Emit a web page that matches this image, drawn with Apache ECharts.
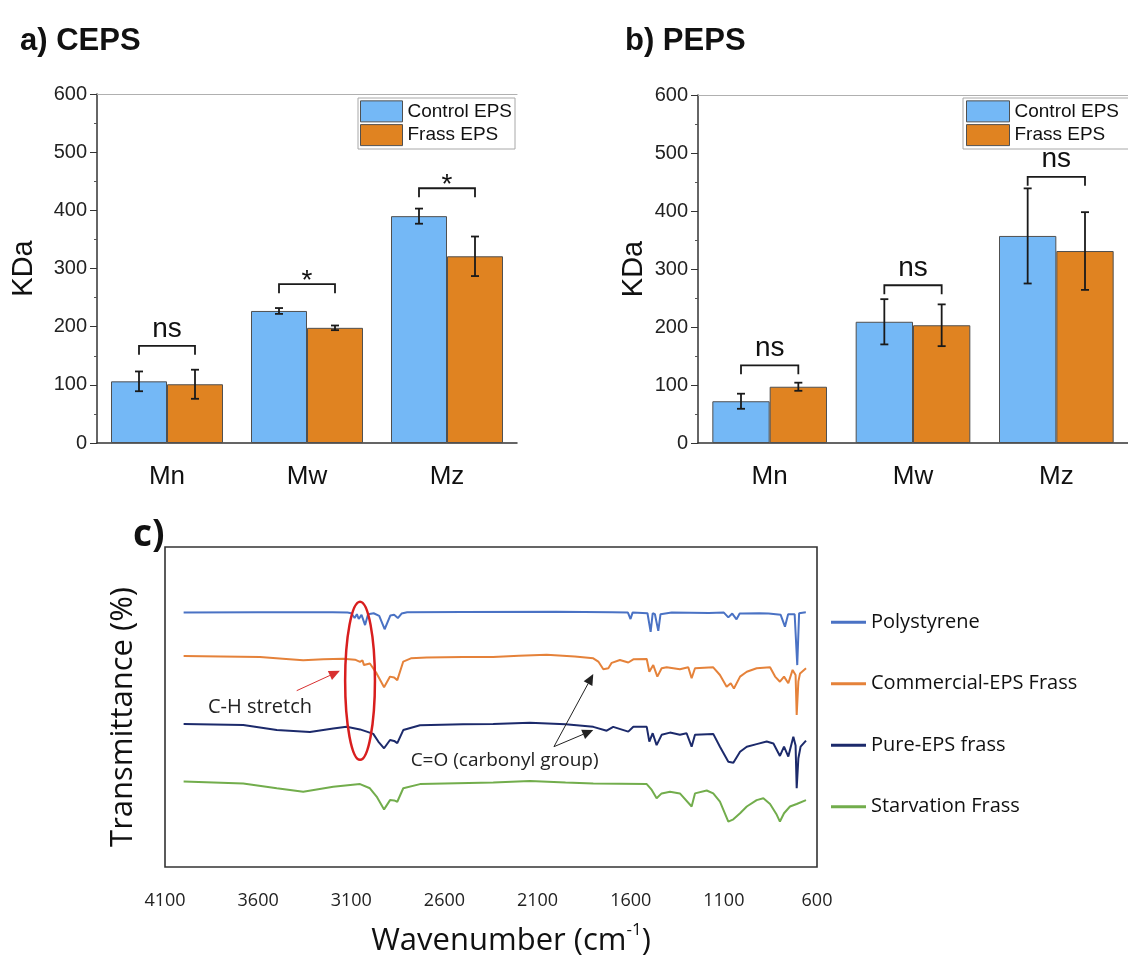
<!DOCTYPE html>
<html>
<head>
    <title>EPS molecular weight and FTIR</title>
    <script src="https://cdn.jsdelivr.net/npm/echarts@6/dist/echarts.min.js"></script>
    <style>
        html, body { margin: 0; padding: 0; background: #fff; }
        #chart { width: 1128px; height: 955px; }
    </style>
</head>
<body>
    <div id="chart"></div>

    <script>
    // ---- panel a / b data (KDa) ----
    const categories = ['Mn', 'Mw', 'Mz'];
    const cepsControl = [106, 227, 390];
    const cepsControlErr = [17, 5, 13];
    const cepsFrass = [101, 198, 321];
    const cepsFrassErr = [25, 4, 34];
    const cepsBracket = [167, 273, 438];
    const cepsSig = ['ns', '*', '*'];

    const pepsControl = [72, 209, 357];
    const pepsControlErr = [13, 39, 82];
    const pepsFrass = [97, 203, 331];
    const pepsFrassErr = [7, 36, 67];
    const pepsBracket = [134, 272, 459];
    const pepsSig = ['ns', 'ns', 'ns'];

    const kdaTicks = [0, 100, 200, 300, 400, 500, 600];

    // ---- panel c data: [wavenumber, offset transmittance] ----
    const wnTicks = [600, 1100, 1600, 2100, 2600, 3100, 3600, 4100];
    const polystyrene = [
        [4000, 79.5], [3600, 79.6], [3200, 79.6], [3120, 79.5], [3100, 79.3], [3082, 77.8], [3070, 79.0],
        [3060, 77.5], [3045, 78.8], [3026, 75.6], [3010, 79.0], [2980, 79.3], [2950, 78.5], [2921, 74.3],
        [2890, 78.6], [2870, 78.8], [2850, 77.8], [2830, 79.2], [2800, 79.6], [2500, 79.7], [2000, 79.8],
        [1700, 79.6], [1615, 79.5], [1601, 77.5], [1590, 79.5], [1510, 79.3], [1493, 73.5], [1482, 79.3],
        [1470, 79.0], [1452, 73.8], [1440, 79.0], [1380, 79.5], [1180, 79.4], [1100, 79.5], [1076, 78.0],
        [1055, 79.2], [1032, 77.4], [1015, 79.2], [1000, 79.2], [910, 79.3], [860, 79.2], [795, 78.8],
        [772, 75.1], [755, 79.0], [720, 79.0], [706, 63.1], [696, 79.3], [660, 79.6]
    ];
    const commercialFrass = [
        [4000, 65.9], [3800, 65.8], [3590, 65.6], [3450, 65.0], [3358, 64.6], [3250, 64.9], [3143, 65.1],
        [3080, 64.8], [3053, 64.1], [3040, 64.6], [3032, 63.1], [3000, 63.6], [2964, 60.5], [2924, 56.2],
        [2892, 59.5], [2870, 59.2], [2853, 58.4], [2821, 64.2], [2780, 65.2], [2695, 65.5], [2500, 65.6],
        [2339, 65.6], [2200, 66.0], [2051, 66.3], [1900, 65.8], [1801, 65.2], [1774, 64.2], [1747, 61.8],
        [1720, 62.1], [1702, 63.8], [1658, 64.7], [1613, 63.9], [1586, 64.9], [1514, 65.0], [1500, 61.0],
        [1479, 63.1], [1457, 59.5], [1434, 62.1], [1407, 62.4], [1336, 61.8], [1291, 62.4], [1273, 59.0],
        [1255, 62.1], [1157, 62.4], [1121, 60.0], [1085, 56.3], [1063, 57.4], [1046, 55.8], [1013, 59.5],
        [977, 61.0], [924, 62.1], [852, 62.4], [825, 59.5], [799, 57.9], [777, 59.5], [754, 57.4],
        [731, 61.6], [715, 60.0], [709, 47.5], [700, 58.0], [691, 60.5], [659, 62.1]
    ];
    const pureEpsFrass = [
        [4000, 44.7], [3680, 44.4], [3500, 42.8], [3322, 42.2], [3197, 43.3], [3125, 43.8], [3053, 43.0],
        [3017, 42.3], [2982, 41.6], [2955, 39.2], [2924, 37.1], [2892, 39.7], [2870, 39.4], [2853, 38.7],
        [2821, 42.8], [2731, 44.3], [2500, 44.6], [2338, 44.7], [2141, 45.1], [1950, 44.6], [1801, 43.8],
        [1729, 42.6], [1694, 43.8], [1613, 42.3], [1586, 43.8], [1514, 43.8], [1500, 39.2], [1482, 41.8],
        [1461, 38.1], [1434, 41.3], [1389, 42.0], [1336, 41.3], [1300, 41.8], [1273, 37.6], [1255, 41.3],
        [1157, 41.6], [1121, 37.6], [1076, 32.9], [1049, 32.6], [1013, 36.0], [977, 37.6], [924, 38.4],
        [870, 39.2], [834, 38.6], [799, 34.7], [777, 37.6], [754, 34.5], [727, 40.7], [715, 38.0],
        [709, 24.6], [700, 34.0], [688, 37.6], [659, 39.5]
    ];
    const starvationFrass = [
        [4000, 26.7], [3680, 26.1], [3500, 24.6], [3358, 23.5], [3197, 25.1], [3053, 25.9], [3000, 24.6],
        [2964, 22.0], [2924, 18.0], [2892, 20.9], [2870, 20.8], [2853, 20.4], [2821, 24.6], [2731, 25.9],
        [2338, 26.4], [2141, 26.9], [1950, 26.4], [1801, 26.1], [1514, 25.9], [1487, 24.1], [1461, 21.5],
        [1434, 23.0], [1389, 23.5], [1336, 23.0], [1273, 18.9], [1255, 23.0], [1192, 23.9], [1157, 23.0],
        [1121, 20.4], [1076, 14.2], [1049, 14.9], [1013, 16.8], [977, 18.9], [924, 20.9], [888, 21.5],
        [852, 19.7], [816, 16.3], [799, 14.2], [777, 16.8], [745, 18.9], [709, 19.7], [659, 20.9]
    ];

    // annotation anchors in data units (wavenumber, value)
    const annotations = {
        ellipse: { center: [3053, 58.2], rx: 80, ry: 24.7 },
        chText: { at: [3590, 50], text: 'C-H stretch' },
        chArrow: { from: [3393, 55.1], to: [3161, 61.3] },
        coText: { at: [2277, 33.4], text: 'C=O (carbonyl group)' },
        coArrows: { from: [2012, 37.6], to: [[1801, 60.3], [1801, 42.8]] }
    };

    const BLUE = '#74b8f6', ORANGE = '#e08321';
    const ARIAL = 'Liberation Sans';
    const CAL = 'Open Sans';

    const chart = echarts.init(document.getElementById('chart'));

    function errData(ctrl, ctrlErr, frass, frassErr) {
        const out = [];
        ctrl.forEach((v, i) => out.push([i, v, ctrlErr[i], -1]));
        frass.forEach((v, i) => out.push([i, v, frassErr[i], 1]));
        return out;
    }

    function renderErr(params, api) {
        const cat = api.value(0), mean = api.value(1), err = api.value(2), side = api.value(3);
        const band = api.size([1, 0])[0];
        const x = api.coord([cat, mean])[0] + side * band * 0.2;
        const yTop = api.coord([cat, mean + err])[1];
        const yBot = api.coord([cat, mean - err])[1];
        const st = { stroke: '#1a1a1a', lineWidth: 1.8 };
        return {
            type: 'group',
            children: [
                { type: 'line', shape: { x1: x, y1: yTop, x2: x, y2: yBot }, style: st },
                { type: 'line', shape: { x1: x - 4, y1: yTop, x2: x + 4, y2: yTop }, style: st },
                { type: 'line', shape: { x1: x - 4, y1: yBot, x2: x + 4, y2: yBot }, style: st }
            ]
        };
    }

    function makeBracket(labels) {
        return function (params, api) {
            const cat = api.value(0), yv = api.value(1);
            const band = api.size([1, 0])[0];
            const p = api.coord([cat, yv]);
            const x1 = p[0] - band * 0.2, x2 = p[0] + band * 0.2, y = p[1];
            const lab = labels[params.dataIndex];
            const ty = lab === '*' ? y - 3 : y - 17;
            return {
                type: 'group',
                children: [
                    { type: 'polyline', shape: { points: [[x1, y + 9], [x1, y], [x2, y], [x2, y + 9]] },
                      style: { stroke: '#1a1a1a', lineWidth: 1.8, fill: null } },
                    { type: 'text', x: p[0], y: ty,
                      style: { text: lab, fill: '#111', fontSize: 28, fontFamily: ARIAL,
                               align: 'center', verticalAlign: 'middle' } }
                ]
            };
        };
    }

    function arrow(p0, p1, color, width, head) {
        const dx = p1[0] - p0[0], dy = p1[1] - p0[1];
        const len = Math.sqrt(dx * dx + dy * dy);
        const ux = dx / len, uy = dy / len;
        const bx = p1[0] - ux * head, by = p1[1] - uy * head;
        const w = head * 0.45;
        return [
            { type: 'line', shape: { x1: p0[0], y1: p0[1], x2: bx, y2: by }, style: { stroke: color, lineWidth: width } },
            { type: 'polygon', shape: { points: [[p1[0], p1[1]], [bx - uy * w, by + ux * w], [bx + uy * w, by - ux * w]] },
              style: { fill: color } }
        ];
    }

    function renderAnnot(params, api) {
        const A = annotations;
        const c = api.coord(A.ellipse.center);
        const s = api.size([A.ellipse.rx, A.ellipse.ry]);
        let kids = [
            { type: 'ellipse', shape: { cx: c[0], cy: c[1], rx: s[0], ry: s[1] },
              style: { stroke: '#d81e1e', lineWidth: 2.5, fill: null } }
        ];
        kids = kids.concat(arrow(api.coord(A.chArrow.from), api.coord(A.chArrow.to), '#d83030', 1, 11));
        A.coArrows.to.forEach(t => {
            kids = kids.concat(arrow(api.coord(A.coArrows.from), api.coord(t), '#222', 1, 11));
        });
        const t1 = api.coord(A.chText.at), t2 = api.coord(A.coText.at);
        kids.push({ type: 'text', x: t1[0], y: t1[1],
            style: { text: A.chText.text, fill: '#222', fontSize: 20, fontFamily: CAL, align: 'center', verticalAlign: 'middle' } });
        kids.push({ type: 'text', x: t2[0], y: t2[1],
            style: { text: A.coText.text, fill: '#222', fontSize: 19, fontFamily: CAL, align: 'center', verticalAlign: 'middle' } });
        return { type: 'group', children: kids };
    }

    function barX(grid) {
        return [
            {
                gridIndex: grid, type: 'category', data: categories,
                axisLine: { lineStyle: { color: '#333', width: 1.5 } },
                axisTick: { alignWithLabel: true, length: 6, lineStyle: { color: '#333' } },
                axisLabel: { fontSize: 26, fontFamily: ARIAL, color: '#111', margin: 11 }
            },
            {
                gridIndex: grid, type: 'category', data: categories, position: 'bottom',
                axisLine: { show: false }, axisLabel: { show: false },
                axisTick: { length: 4, lineStyle: { color: '#555' } }
            },
            {
                gridIndex: grid, type: 'category', data: categories, position: 'top',
                axisLine: { lineStyle: { color: '#b0b0b0', width: 1.2 } },
                axisTick: { show: false }, axisLabel: { show: false }
            }
        ];
    }

    function barY(grid, gap) {
        return {
            gridIndex: grid, type: 'value', min: kdaTicks[0], max: kdaTicks[kdaTicks.length - 1], interval: 100,
            name: 'KDa', nameLocation: 'middle', nameGap: gap, nameMoveOverlap: false,
            nameTextStyle: { fontSize: 29, fontFamily: ARIAL, color: '#111' },
            axisLine: { show: true, lineStyle: { color: '#333', width: 1.5 } },
            axisTick: { show: true, length: 7, lineStyle: { color: '#333' } },
            minorTick: { show: true, splitNumber: 2, length: 3, lineStyle: { color: '#555' } },
            axisLabel: { fontSize: 20, fontFamily: ARIAL, color: '#222', margin: 10 },
            splitLine: { show: false }
        };
    }

    // legend items; the frame is drawn as a graphic rect behind them
    function barLegend(left, width) {
        return {
            data: ['Control EPS', 'Frass EPS'], orient: 'vertical', left: left, top: 95,
            icon: 'rect', itemWidth: width, itemHeight: 21, itemGap: -9, padding: 0,
            textStyle: { fontSize: 19, fontFamily: ARIAL, color: '#111' },
            itemStyle: { borderColor: '#505050', borderWidth: 1 }
        };
    }

    function legendFrame(x, w) {
        return {
            type: 'rect', z: 3, shape: { x: x, y: 98, width: w, height: 51 },
            style: { fill: '#fff', stroke: '#a8a8a8', lineWidth: 1 }
        };
    }

    function barSeries(name, data, color, xi, yi) {
        return {
            name: name, type: 'bar', data: data, xAxisIndex: xi, yAxisIndex: yi,
            barGap: 0, barCategoryGap: '20%',
            itemStyle: { color: color, borderColor: '#505050', borderWidth: 1 }
        };
    }

    const option = {
        animation: false,
        backgroundColor: '#fff',
        title: [
            { text: 'a) CEPS', left: 15, top: 10, textStyle: { fontFamily: ARIAL, fontWeight: 'bold', fontSize: 31, color: '#111' } },
            { text: 'b) PEPS', left: 620, top: 10, textStyle: { fontFamily: ARIAL, fontWeight: 'bold', fontSize: 31, color: '#111' } },
            { text: 'c)', left: 128, top: 496, textStyle: { fontFamily: CAL, fontWeight: 'bold', fontSize: 37, color: '#111' } }
        ],
        graphic: [legendFrame(358, 157), legendFrame(963, 200)],
        legend: [
            barLegend(360, 42),
            barLegend(966, 43),
            {
                data: ['Polystyrene', 'Commercial-EPS Frass', 'Pure-EPS frass', 'Starvation Frass'],
                orient: 'vertical', left: 831, top: 606, icon: 'rect', padding: 0,
                itemWidth: 35, itemHeight: 3, itemGap: 29,
                textStyle: { fontSize: 20, fontFamily: CAL, color: '#111' }
            }
        ],
        grid: [
            { left: 97, top: 94, width: 420, height: 349, outerBoundsMode: 'none' },
            { left: 698, top: 95, width: 430, height: 348, outerBoundsMode: 'none' },
            { left: 165, top: 547, width: 652, height: 320, show: true, borderColor: '#333', borderWidth: 1.6,
              outerBoundsMode: 'none' }
        ],
        xAxis: barX(0).concat(barX(1)).concat([{
            gridIndex: 2, type: 'value', min: wnTicks[0], max: wnTicks[wnTicks.length - 1], inverse: true,
            name: 'Wavenumber (cm{sup|-1})', nameLocation: 'middle', nameGap: 49, nameMoveOverlap: false,
            nameTextStyle: {
                fontSize: 31, fontFamily: CAL, color: '#111', padding: [0, 0, 0, 40],
                rich: { sup: { fontSize: 17, fontFamily: CAL, color: '#111', verticalAlign: 'top', padding: [0, 0, 14, 0] } }
            },
            axisLine: { show: false }, axisTick: { show: false }, splitLine: { show: false },
            axisLabel: { customValues: wnTicks, formatter: v => String(v), fontSize: 18, fontFamily: CAL,
                         color: '#222', margin: 19 }
        }]),
        yAxis: [
            barY(0, 48),
            barY(1, 39),
            {
                gridIndex: 2, type: 'value', min: 0, max: 100,
                name: 'Transmittance (%)', nameLocation: 'middle', nameGap: 17,
                nameTextStyle: { fontSize: 31, fontFamily: CAL, color: '#111', padding: [0, 20, 0, 0] },
                axisLine: { show: false }, axisTick: { show: false }, axisLabel: { show: false },
                splitLine: { show: false }
            }
        ],
        series: [
            barSeries('Control EPS', cepsControl, BLUE, 0, 0),
            barSeries('Frass EPS', cepsFrass, ORANGE, 0, 0),
            { type: 'custom', xAxisIndex: 0, yAxisIndex: 0, renderItem: renderErr,
              data: errData(cepsControl, cepsControlErr, cepsFrass, cepsFrassErr), encode: { x: 0, y: 1 }, z: 5 },
            { type: 'custom', xAxisIndex: 0, yAxisIndex: 0, renderItem: makeBracket(cepsSig),
              data: cepsBracket.map((v, i) => [i, v]), encode: { x: 0, y: 1 }, z: 5 },

            barSeries('Control EPS', pepsControl, BLUE, 3, 1),
            barSeries('Frass EPS', pepsFrass, ORANGE, 3, 1),
            { type: 'custom', xAxisIndex: 3, yAxisIndex: 1, renderItem: renderErr,
              data: errData(pepsControl, pepsControlErr, pepsFrass, pepsFrassErr), encode: { x: 0, y: 1 }, z: 5 },
            { type: 'custom', xAxisIndex: 3, yAxisIndex: 1, renderItem: makeBracket(pepsSig),
              data: pepsBracket.map((v, i) => [i, v]), encode: { x: 0, y: 1 }, z: 5 },

            { name: 'Polystyrene', type: 'line', xAxisIndex: 6, yAxisIndex: 2, data: polystyrene,
              showSymbol: false, color: '#4a72c4', lineStyle: { width: 2 } },
            { name: 'Commercial-EPS Frass', type: 'line', xAxisIndex: 6, yAxisIndex: 2, data: commercialFrass,
              showSymbol: false, color: '#e5823a', lineStyle: { width: 2 } },
            { name: 'Pure-EPS frass', type: 'line', xAxisIndex: 6, yAxisIndex: 2, data: pureEpsFrass,
              showSymbol: false, color: '#1c2a6b', lineStyle: { width: 2 } },
            { name: 'Starvation Frass', type: 'line', xAxisIndex: 6, yAxisIndex: 2, data: starvationFrass,
              showSymbol: false, color: '#72ad4c', lineStyle: { width: 2 } },
            { type: 'custom', xAxisIndex: 6, yAxisIndex: 2, renderItem: renderAnnot,
              data: [annotations.ellipse.center], z: 10, silent: true }
        ]
    };

    chart.setOption(option);
    </script>
</body>
</html>
